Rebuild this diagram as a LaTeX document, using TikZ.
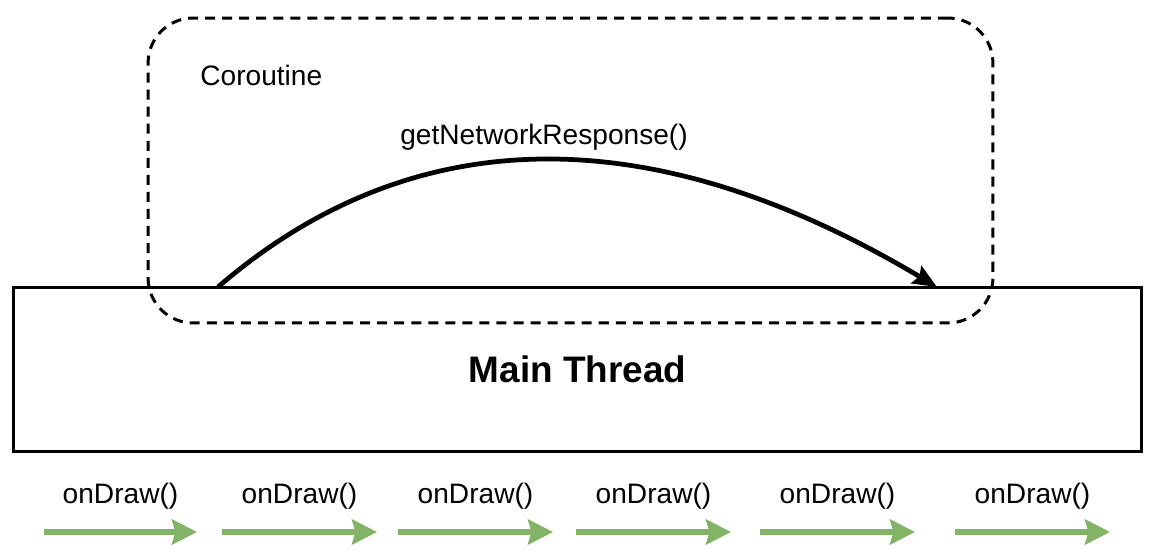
\documentclass[tikz,border=0pt]{standalone}
\usepackage{fontspec}
\setmainfont{Liberation Sans}
\usetikzlibrary{calc,arrows.meta,positioning}
\definecolor{drawgreen}{HTML}{82B366}

\begin{document}
\begin{tikzpicture}[x=0.02cm,y=-0.02cm,
    thread/.style={draw,line width=1.7pt,minimum width=22.58cm,minimum
        height=3.3cm,inner sep=0pt},
    coro/.style={draw,line width=1.7pt,dash pattern=on 5.7pt off 4pt,
        rounded corners=0.9cm,minimum width=16.9cm,minimum height=6.1cm,inner sep=0pt},
    lbl/.style={font=\fontsize{16}{19}\selectfont},
    frame/.style={draw=drawgreen,line width=3.2pt,
        -{Stealth[length=0.5cm,width=0.5cm,inset=0.07cm]}}]

    \useasboundingbox (0,0) rectangle (1157,557);

    % the boxes
    \node[coro] (coroutine) at (570.5,170.5) {};
    \node[thread,font=\bfseries\fontsize{21}{25}\selectfont] (main) at (577.5,369.5) {Main Thread};

    % the texts
    \node[lbl,anchor=west,inner sep=0pt] (corolbl) at (200,75) {Coroutine};
    \node[lbl] (call) at (544,137) {getNetworkResponse()};

    % the suspended call
    \coordinate (start) at (218,287);
    \coordinate (stop) at (937,287);
    \draw[line width=2.7pt,-{Stealth[length=0.48cm,width=0.4cm,inset=0.07cm]}]
        (start) .. controls (414,118) and (654,118) .. (stop);

    % the frames
    \foreach \i/\a/\b in {1/44/197,2/222/377,3/398/553,4/576/731,5/760/915,6/955/1110} {
        \coordinate (f\i a) at (\a,532);
        \coordinate (f\i b) at (\b,532);
        \draw[frame] (f\i a) -- (f\i b);
        \node[lbl] (draw\i) at ($(f\i a)!0.5!(f\i b)+(0,-36)$) {onDraw()};
    }

\end{tikzpicture}
\end{document}
